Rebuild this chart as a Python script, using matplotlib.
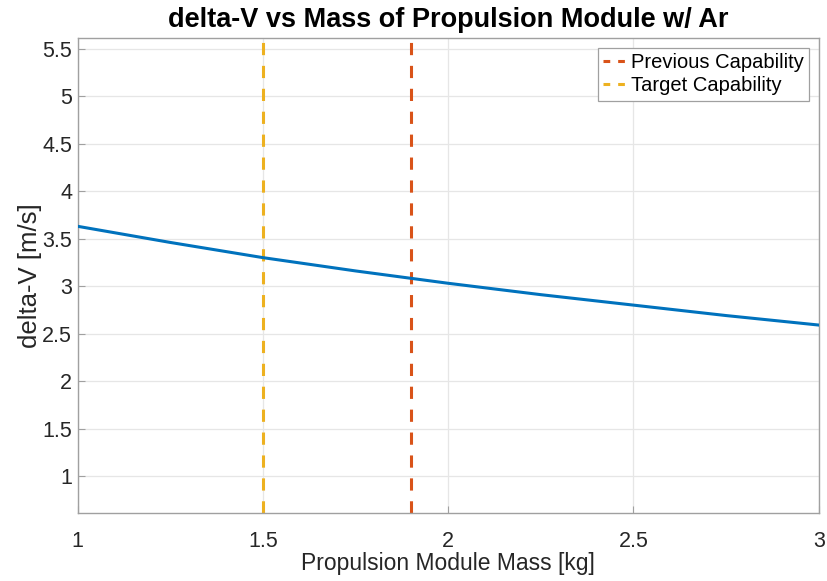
import matplotlib.pyplot as plt
from matplotlib import font_manager

# module mass [kg] and delta-V [m/s]
mass = [1.0, 1.25, 1.5, 1.75, 2.0, 2.25, 2.5, 2.75, 3.0]
dv = [3.63, 3.46, 3.30, 3.16, 3.03, 2.91, 2.80, 2.69, 2.59]

prev_cap = 1.9
target_cap = 1.5

names = [f.name for f in font_manager.fontManager.ttflist]
fam = 'Liberation Sans Narrow' if 'Liberation Sans Narrow' in names else 'Liberation Sans'
plt.rcParams['font.family'] = [fam, 'DejaVu Sans']

blue = '#0072BD'
orange = '#D95319'
yellow = '#EDB120'

fig = plt.figure(figsize=(8.27, 5.81), dpi=100)
ax = fig.add_axes([0.094, 0.117, 0.896, 0.817])

ax.plot(mass, dv, color=blue, lw=2.2, zorder=3)

ylim = (0.61, 5.61)
ax.plot([prev_cap, prev_cap], ylim, color=orange, lw=2.2, ls=(0, (4, 3.5)),
        label='Previous Capability', zorder=2)
ax.plot([target_cap, target_cap], ylim, color=yellow, lw=2.2, ls=(0, (4, 3.5)),
        label='Target Capability', zorder=2)

ax.set_xlim(1, 3)
ax.set_ylim(*ylim)
ax.set_xticks([1, 1.5, 2, 2.5, 3])
ax.set_xticklabels(['1', '1.5', '2', '2.5', '3'])
ax.set_yticks([1, 1.5, 2, 2.5, 3, 3.5, 4, 4.5, 5, 5.5])
ax.set_yticklabels(['1', '1.5', '2', '2.5', '3', '3.5', '4', '4.5', '5', '5.5'])

ax.grid(True, color='#e6e6e6', lw=0.9)
ax.set_axisbelow(True)
for s in ax.spines.values():
    s.set_color('#a0a0a0')
    s.set_linewidth(1.0)
ax.tick_params(direction='in', length=5, color='#a0a0a0', labelsize=15.5,
               labelcolor='#262626')
ax.tick_params(axis='x', pad=13)
ax.tick_params(axis='y', pad=4)

ax.set_xlabel('Propulsion Module Mass [kg]', fontsize=16.5, color='#262626', labelpad=0)
ax.set_ylabel('delta-V [m/s]', fontsize=18.5, color='#262626', labelpad=0)
ax.set_title('delta-V vs Mass of Propulsion Module w/ Ar', fontsize=19.5,
             fontweight='bold', pad=8)

leg = ax.legend(loc='upper right', fontsize=14.5, handlelength=1.3, handletextpad=0.1,
                borderpad=0.25, labelspacing=0.2, fancybox=False, framealpha=1,
                edgecolor='#a0a0a0', borderaxespad=0.5)
leg.get_frame().set_linewidth(0.9)
for ln in leg.get_lines():
    ln.set_linestyle((0, (2.2, 2.6)))

fig.savefig('out.png', dpi=100)
